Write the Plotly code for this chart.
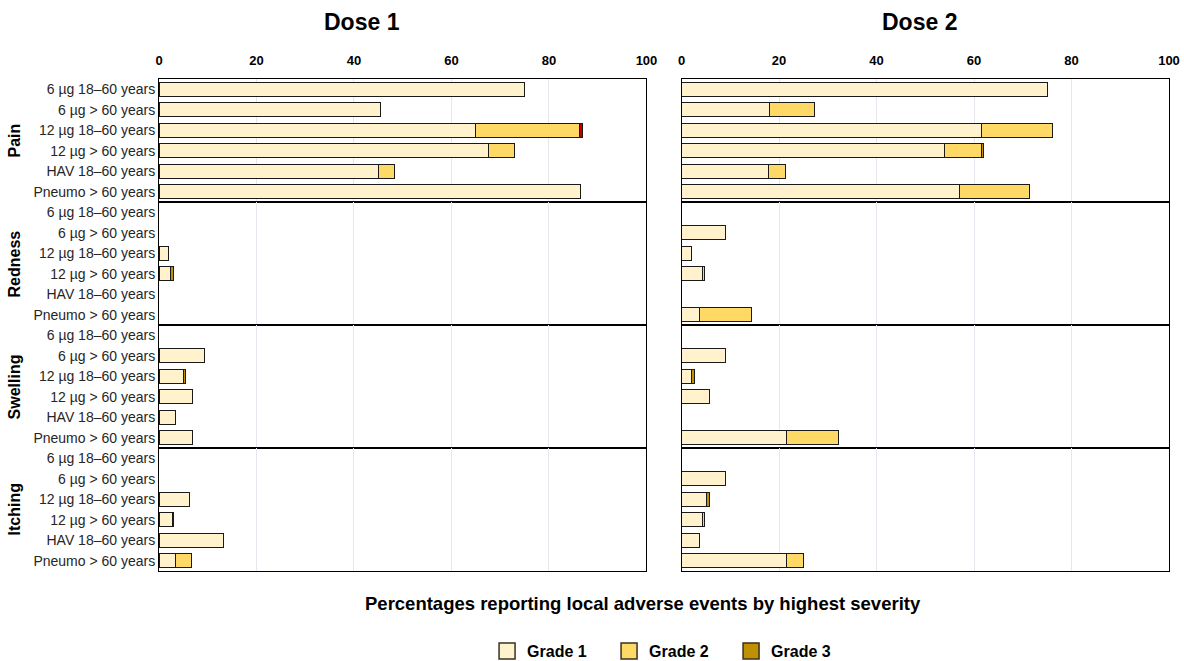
import plotly.graph_objects as go
from plotly.subplots import make_subplots

groups = ["6 µg 18–60 years", "6 µg > 60 years", "12 µg 18–60 years",
          "12 µg > 60 years", "HAV 18–60 years", "Pneumo > 60 years"]
events = ["Pain", "Redness", "Swelling", "Itching"]
grades = ["Grade 1", "Grade 2", "Grade 3", "Grade 4"]
grade_colors = ["#FFF2CC", "#FFD966", "#BF9000", "#C00000"]
x_ticks = [0, 20, 40, 60, 80, 100]

# Dose 1 (per event: 6 groups)
dose1_grade1 = {
    "Pain":     [75.0, 45.5, 64.9, 67.5, 45.1, 86.5],
    "Redness":  [0, 0, 1.9, 2.3, 0, 0],
    "Swelling": [0, 9.3, 5.0, 6.9, 3.3, 6.9],
    "Itching":  [0, 0, 6.2, 2.7, 13.2, 3.3],
}
dose1_grade2 = {
    "Pain":     [0, 0, 21.4, 5.5, 3.2, 0],
    "Redness":  [0, 0, 0, 0, 0, 0],
    "Swelling": [0, 0, 0, 0, 0, 0],
    "Itching":  [0, 0, 0, 0, 0, 3.4],
}
dose1_grade3 = {
    "Pain":     [0, 0, 0, 0, 0, 0],
    "Redness":  [0, 0, 0, 0.6, 0, 0],
    "Swelling": [0, 0, 0.5, 0, 0, 0],
    "Itching":  [0, 0, 0, 0.3, 0, 0],
}
dose1_grade4 = {
    "Pain":     [0, 0, 0.5, 0, 0, 0],
    "Redness":  [0, 0, 0, 0, 0, 0],
    "Swelling": [0, 0, 0, 0, 0, 0],
    "Itching":  [0, 0, 0, 0, 0, 0],
}

# Dose 2
dose2_grade1 = {
    "Pain":     [75.0, 18.0, 61.6, 54.0, 17.8, 57.1],
    "Redness":  [0, 9.1, 2.1, 4.3, 0, 3.6],
    "Swelling": [0, 9.1, 2.1, 5.7, 0, 21.5],
    "Itching":  [0, 9.1, 5.2, 4.3, 3.6, 21.5],
}
dose2_grade2 = {
    "Pain":     [0, 9.3, 14.4, 7.6, 3.6, 14.2],
    "Redness":  [0, 0, 0, 0.5, 0, 10.8],
    "Swelling": [0, 0, 0, 0, 0, 10.8],
    "Itching":  [0, 0, 0, 0.5, 0, 3.6],
}
dose2_grade3 = {
    "Pain":     [0, 0, 0, 0.3, 0, 0],
    "Redness":  [0, 0, 0, 0, 0, 0],
    "Swelling": [0, 0, 0.5, 0, 0, 0],
    "Itching":  [0, 0, 0.5, 0, 0, 0],
}
dose2_grade4 = {
    "Pain":     [0, 0, 0, 0, 0, 0],
    "Redness":  [0, 0, 0, 0, 0, 0],
    "Swelling": [0, 0, 0, 0, 0, 0],
    "Itching":  [0, 0, 0, 0, 0, 0],
}

doses = [
    [dose1_grade1, dose1_grade2, dose1_grade3, dose1_grade4],
    [dose2_grade1, dose2_grade2, dose2_grade3, dose2_grade4],
]

FONT = "Liberation Sans, Arial, sans-serif"

fig = make_subplots(rows=4, cols=2, horizontal_spacing=0.0347, vertical_spacing=0)

for c, dose in enumerate(doses):
    for r, ev in enumerate(events):
        for g, gdata in enumerate(dose):
            vals = [v if v else None for v in gdata[ev]]
            fig.add_trace(go.Bar(
                x=vals, y=groups, orientation="h",
                name=grades[g], legendgroup=grades[g], showlegend=False,
                marker=dict(color=grade_colors[g], line=dict(color="#1a1a1a", width=1)),
            ), row=r + 1, col=c + 1)

# legend swatches (legend-only proxies)
for g in range(3):
    fig.add_trace(go.Scatter(
        x=[None], y=[None], mode="markers", name=grades[g], legendgroup=grades[g],
        marker=dict(symbol="square", size=22, color=grade_colors[g],
                    line=dict(color="#3a3020", width=1.5)),
    ), row=1, col=1)

fig.update_layout(
    barmode="stack",
    bargap=0.33,
    width=1184, height=661,
    margin=dict(l=159, r=15, t=79, b=90, autoexpand=False),
    plot_bgcolor="white", paper_bgcolor="white",
    font=dict(family=FONT, color="#000"),
    legend=dict(orientation="h", x=0.506, xanchor="center", y=-0.128, yanchor="top",
                font=dict(size=16, weight="bold", family=FONT), entrywidth=77,
                itemsizing="trace", traceorder="normal"),
)

for r in range(1, 5):
    for c in range(1, 3):
        fig.update_xaxes(
            range=[0, 100], tickvals=x_ticks, showgrid=True, gridcolor="#E4E7EE", gridwidth=1,
            zeroline=False, showline=True, mirror=True, linecolor="#000", linewidth=1,
            side="top", showticklabels=(r == 1), ticks="", automargin=False,
            ticklabelstandoff=8,
            tickfont=dict(size=13, weight="bold", family=FONT, color="#000"),
            row=r, col=c)
        fig.update_yaxes(
            type="category", categoryorder="array", categoryarray=groups,
            range=[5.5, -0.5], showgrid=False, zeroline=False,
            showline=True, mirror=True, linecolor="#000", linewidth=1,
            showticklabels=(c == 1), ticks="", automargin=False,
            tickfont=dict(size=14, family=FONT, color="#262626"),
            row=r, col=c)

ann = [
    dict(text="<b>Dose 1</b>", x=0.201, y=1.116, font=dict(size=23)),
    dict(text="<b>Dose 2</b>", x=0.7525, y=1.116, font=dict(size=23)),
    dict(text="<b>Percentages reporting local adverse events by highest severity</b>",
         x=0.479, y=-0.067, font=dict(size=18.5)),
]
for i, ev in enumerate(events):
    ann.append(dict(text="<b>%s</b>" % ev, x=-0.1426, y=0.875 - 0.25 * i,
                    textangle=-90, font=dict(size=16)))
for a in ann:
    fig.add_annotation(xref="paper", yref="paper", showarrow=False,
                       xanchor="center", yanchor="middle", **a)

fig.write_html("out.html", config={"displayModeBar": False},
               post_script="document.body.style.margin='0';document.body.style.overflow='hidden';")
